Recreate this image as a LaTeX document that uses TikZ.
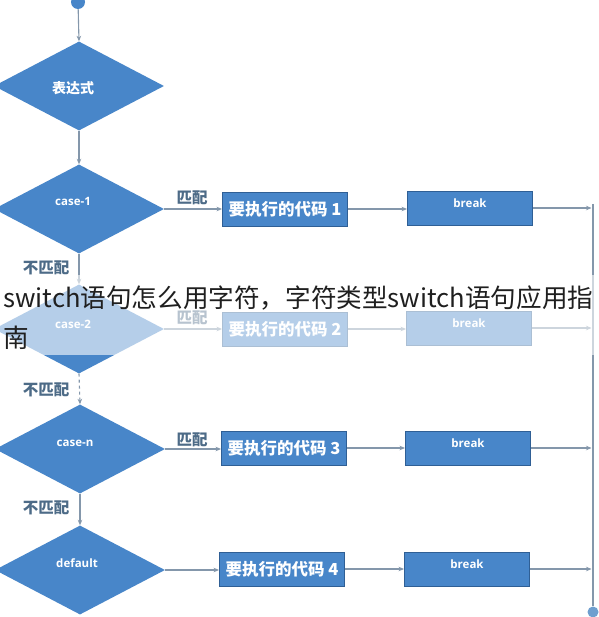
\documentclass[tikz,border=0pt]{standalone}
\usepackage{fontspec}
\setmainfont{Open Sans}
\newfontfamily\cjk{Noto Sans CJK SC}
\usetikzlibrary{shapes.geometric,arrows.meta,calc}
\definecolor{fc}{HTML}{4886C9}
\definecolor{bc}{HTML}{2F5F95}
\definecolor{lc}{HTML}{8497AB}
\definecolor{labc}{HTML}{4D6B87}
\definecolor{endc}{HTML}{6F9FCF}
\begin{document}
\begin{tikzpicture}[x=1pt,y=-1pt,
  dia/.style={diamond, fill=fc, draw=none, minimum width=170pt, minimum height=89pt, inner sep=0pt},
  dtxt/.style={text=white, font=\bfseries\fontsize{11.5}{11.5}\selectfont},
  ctxt/.style={text=white, font=\cjk\bfseries\fontsize{14}{14}\selectfont},
  codebox/.style={rectangle, fill=fc, draw=bc, line width=0.9pt, minimum width=125pt, minimum height=34pt, inner sep=0pt, text=white, font=\cjk\bfseries\fontsize{16.5}{16.5}\selectfont},
  brkbox/.style={rectangle, fill=fc, draw=bc, line width=0.9pt, minimum width=125pt, minimum height=34pt, inner sep=0pt},
  lab/.style={text=labc, inner sep=0pt, font=\cjk\bfseries\fontsize{15.5}{15.5}\selectfont},
  ln/.style={draw=lc, line width=1.1pt, -{Stealth[length=5.5pt,width=4.5pt]}},
  ovtxt/.style={inner sep=0pt, anchor=base west, text=black!88, font=\cjk\fontsize{25.6}{25.6}\selectfont}
]
\useasboundingbox (0,0) rectangle (598,617);
\fill[white] (0,0) rectangle (598,617);

% start / end
\node[circle, fill=fc, minimum size=14pt, inner sep=0pt] (s) at (78,2) {};
\coordinate (rt) at (593,204);
\node[circle, fill=endc, minimum size=11pt, inner sep=0pt] (e) at (593,612) {};

% diamonds
\node[dia, label={[ctxt,xshift=-6pt,yshift=-2pt]center:表达式}] (d1) at (79,86) {};
\node[dia, label={[dtxt,xshift=-6pt,yshift=8pt]center:case-1}] (d2) at (79,209) {};
\node[dia, label={[dtxt,xshift=-6pt,yshift=5pt]center:case-2}] (d3) at (79,329) {};
\node[dia, label={[dtxt,xshift=-5pt,yshift=6pt]center:case-n}] (d4) at (80,449) {};
\node[dia, label={[dtxt,xshift=-3pt,yshift=7pt]center:default}] (d5) at (80,570) {};

% code boxes
\node[codebox] (c1) at (285,209) {要执行的代码 1};
\node[codebox] (c2) at (285,329) {要执行的代码 2};
\node[codebox] (c3) at (284,448) {要执行的代码 3};
\node[codebox] (c4) at (282,569) {要执行的代码 4};

% break boxes
\node[brkbox, label={[dtxt,yshift=5pt]center:break}] (b1) at (470,208) {};
\node[brkbox, label={[dtxt,yshift=5pt]center:break}] (b2) at (469,328) {};
\node[brkbox, label={[dtxt,yshift=5pt]center:break}] (b3) at (468,448) {};
\node[brkbox, label={[dtxt,yshift=5pt]center:break}] (b4) at (467,569) {};

% vertical flow
\draw[ln] (s) -- (d1.north);
\draw[ln] (d1.south) -- (d2.north);
\draw[ln] (d2.south) -- (d3.north);
\draw[ln, dashed] (d3.south) -- (d4.north);
\draw[ln] (d4.south) -- (d5.north);

% horizontal flow
\foreach \i in {2,3,4,5}{
  \pgfmathtruncatemacro{\j}{\i-1}
  \draw[ln] (d\i.east) -- (d\i.east -| c\j.west);
}
\foreach \i in {1,2,3,4}{
  \draw[ln] (c\i.east) -- (c\i.east -| b\i.west);
  \draw[ln] (b\i.east) -- ($(b\i.east -| rt)+(-1.5,0)$);
}
\draw[draw=lc, line width=1.1pt] (rt) -- (e.north);

% labels
\node[lab] (n1) at (46,268) {不匹配};
\node[lab] (n2) at (46,390) {不匹配};
\node[lab] (n3) at (46,508) {不匹配};
\node[lab] (m1) at (192,198) {匹配};
\node[lab] (m2) at (192,318) {匹配};
\node[lab] (m3) at (192,440) {匹配};

% faded band
\fill[white, opacity=0.6] (0,275) rectangle (598,355);

% overlay text
\node[ovtxt] (ov1) at (3,307) {switch语句怎么用字符，字符类型switch语句应用指};
\node[ovtxt] (ov2) at (3,347) {南};
\end{tikzpicture}
\end{document}
